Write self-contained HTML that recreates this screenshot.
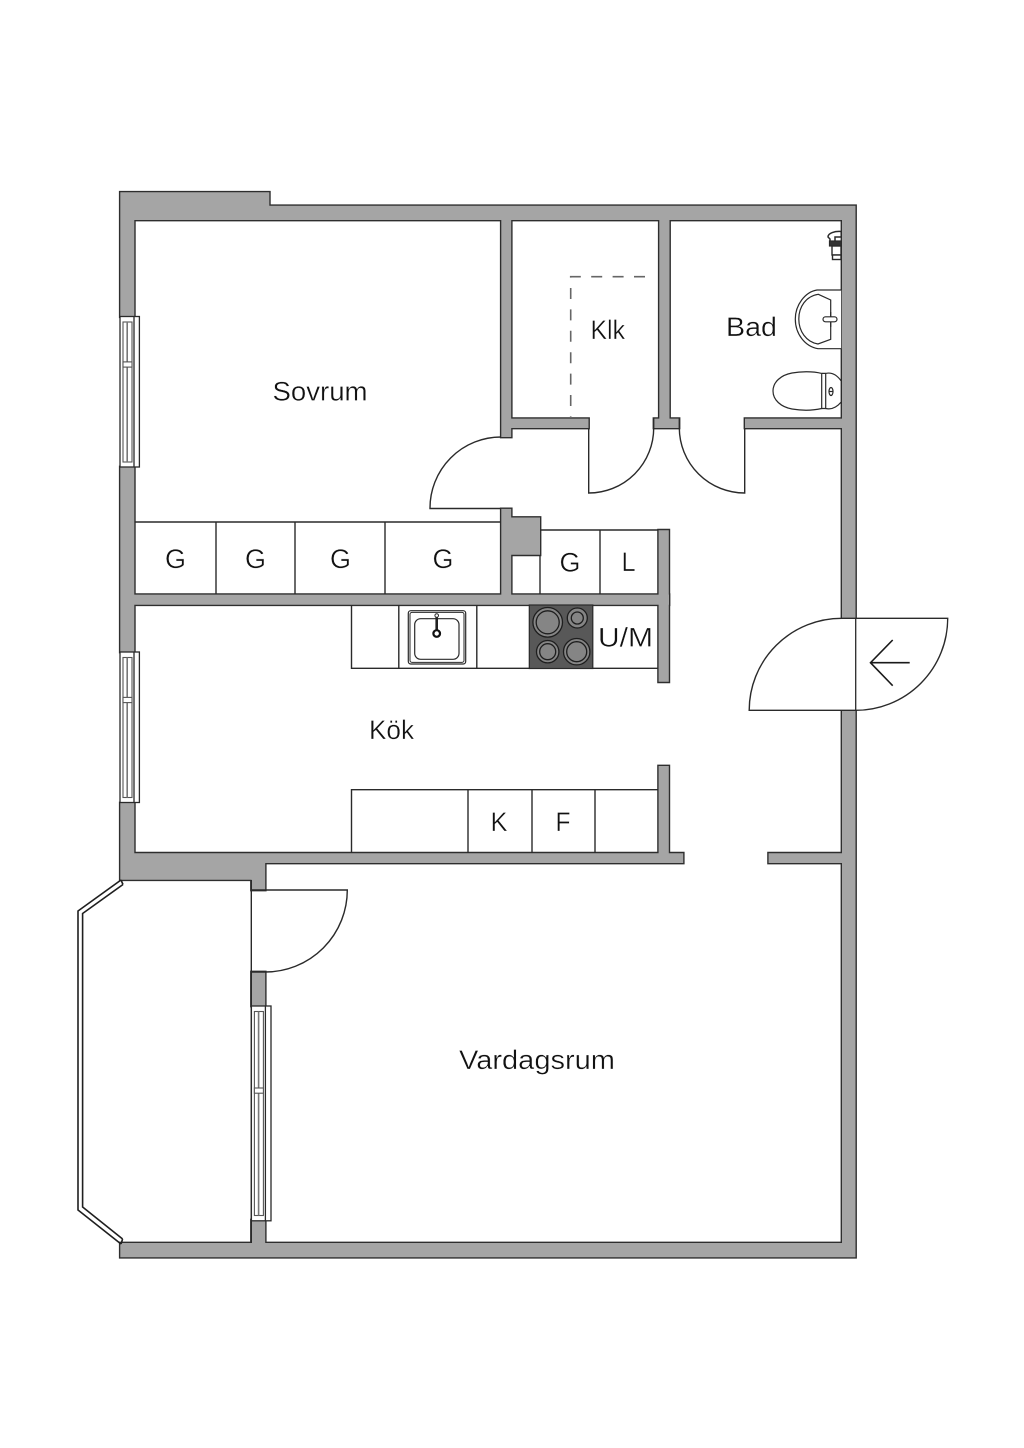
<!DOCTYPE html>
<html>
<head>
<meta charset="utf-8">
<style>
html,body{margin:0;padding:0;background:#fff}
svg{display:block}
text{font-family:"Liberation Sans",sans-serif;fill:#111;font-size:27px;stroke:#fff;stroke-width:.35px;paint-order:fill stroke}
</style>
</head>
<body>
<svg width="1024" height="1448" viewBox="0 0 1024 1448" xmlns="http://www.w3.org/2000/svg">
<defs>
<path id="w" d="M120.3 192.3H269.3V205.8H855.5V220H120.3Z
M120.3 192.3H134.3V316.7H120.3Z
M120.3 467H134.3V652H120.3Z
M120.3 803H134.3V879.7H120.3Z
M120.3 853.2H683.2V863H265.2V890H251.5V879.7H120.3Z
M251.5 972H265.2V1006H251.5Z
M251.5 1220H265.2V1243H251.5Z
M120.3 1243H855.5V1257.2H120.3Z
M842 205.8H855.5V618.3H842Z
M842 710.3H855.5V1257.2H842Z
M501.3 220H511.2V437H501.3Z
M511 418.6H588.5V428H511Z
M654 418.6H679V428H654Z
M659.3 220H669.5V428H659.3Z
M745 418.6H842V428H745Z
M501.3 508.9H511.2V517.5H540V554.8H511.2V600H501.3Z
M134.3 594.6H669V604.7H134.3Z
M658.6 530.2H668.8V681.8H658.6Z
M658.6 766H668.8V863H658.6Z
M768.6 853.2H842V863H768.6Z"/>
</defs>

<!-- walls -->
<use href="#w" fill="#2e2e2e" stroke="#2e2e2e" stroke-width="2.8" stroke-linejoin="miter"/>
<use href="#w" fill="#a5a5a5"/>

<g fill="none" stroke="#2a2a2a" stroke-width="1.4">
<!-- closets -->
<path d="M134.5 522H501M216 522V594M295 522V594M385 522V594"/>
<path d="M540 530H658M540 555V594M600 530V594"/>
<!-- kitchen counters -->
<path d="M658 668.3H351.5V605M398.8 605V668M476.8 605V668"/>
<path d="M658 789.7H351.5V853M468 790V853M532 790V853M595 790V853"/>

<!-- doors -->
<path d="M501 437A71 71 0 0 0 430 508.5H501"/>
<path d="M588.7 428V493A65 65 0 0 0 653.7 428V418.5"/>
<path d="M744.7 428V493A65.4 65.4 0 0 1 679.3 428V418.5"/>
<path d="M251.3 890H347.3A82 82 0 0 1 265.3 972H251.3"/>
<path d="M251.3 880V1243"/>
</g>

<!-- entry door -->
<path d="M841.7 618.3H947.7A92 92 0 0 1 855.7 710.3H749.2A92.5 92 0 0 1 841.7 618.3Z" fill="#fff" stroke="#2a2a2a" stroke-width="1.4"/>
<path d="M855.7 618.3V710.3" fill="none" stroke="#2a2a2a" stroke-width="1.3"/>
<path d="M909.7 662.7H870.5M892.7 640L870.5 662.7L892.7 685.7" fill="none" stroke="#1a1a1a" stroke-width="1.6"/>

<!-- dashed -->
<path d="M645 276.7H570.7V418" fill="none" stroke="#666" stroke-width="1.6" stroke-dasharray="11 10.4"/>

<!-- window 1 -->
<g transform="translate(120,316.5)" stroke="#2a2a2a" stroke-width="1.3">
<rect x="0" y="0" width="19.4" height="150.5" fill="#fff"/>
<path d="M14 0V150.5" fill="none"/>
<g stroke="#555" stroke-width="1.1">
<rect x="3" y="5.5" width="9" height="140" fill="#fff"/>
<path d="M7.2 5.5V145.5" stroke="#777" stroke-width="1.6" fill="none"/>
<rect x="3" y="45.4" width="9" height="5.2" fill="#fff"/>
</g>
</g>
<!-- window 2 -->
<g transform="translate(120,652)" stroke="#2a2a2a" stroke-width="1.3">
<rect x="0" y="0" width="19.4" height="150.5" fill="#fff"/>
<path d="M14 0V150.5" fill="none"/>
<g stroke="#555" stroke-width="1.1">
<rect x="3" y="5.5" width="9" height="140" fill="#fff"/>
<path d="M7.2 5.5V145.5" stroke="#777" stroke-width="1.6" fill="none"/>
<rect x="3" y="45.4" width="9" height="5.2" fill="#fff"/>
</g>
</g>
<!-- window 3 -->
<g transform="translate(251.4,1006)" stroke="#2a2a2a" stroke-width="1.3">
<rect x="0" y="0" width="19.6" height="214.8" fill="#fff"/>
<path d="M14 0V214.8" fill="none"/>
<g stroke="#555" stroke-width="1.1">
<rect x="3" y="5.5" width="9" height="204" fill="#fff"/>
<path d="M7.2 5.5V209.5" stroke="#777" stroke-width="1.6" fill="none"/>
<rect x="3" y="82" width="9" height="5.2" fill="#fff"/>
</g>
</g>

<!-- balcony rail -->
<path d="M121 880L78 911V1210L121 1244" fill="none" stroke="#1f1f1f" stroke-width="1.6"/>
<path d="M123 884.5L82.6 913.5V1207L122.6 1239" fill="none" stroke="#1f1f1f" stroke-width="1.6"/>
<path d="M121 880L123 884.5M121 1244L122.6 1239" fill="none" stroke="#1f1f1f" stroke-width="1.6"/>

<!-- sink -->
<g fill="none" stroke="#2a2a2a">
<rect x="408.3" y="610.7" width="57.4" height="53.3" rx="2.5" stroke-width="1.2"/>
<rect x="410" y="612.4" width="54" height="50" rx="2" stroke-width="1"/>
<rect x="414.7" y="618.7" width="44.3" height="40.6" rx="6" stroke-width="1.2"/>
<path d="M436.7 616V631" stroke="#222" stroke-width="2.6"/>
<circle cx="436.7" cy="633.5" r="3.3" stroke="#111" stroke-width="2.2" fill="#fff"/>
<circle cx="436.7" cy="615.5" r="1.8" stroke-width="1" fill="#fff"/>
</g>

<!-- stove -->
<rect x="529.3" y="605" width="63.5" height="63.5" fill="#585858" stroke="#2a2a2a" stroke-width="1.2"/>
<g stroke="#1e1e1e" stroke-width="1.3" fill="#858585">
<circle cx="547.7" cy="622.3" r="14.8"/>
<circle cx="547.7" cy="622.3" r="11.5"/>
<circle cx="577.3" cy="618" r="10"/>
<circle cx="577.3" cy="618" r="6"/>
<circle cx="547.7" cy="651.7" r="11.2"/>
<circle cx="547.7" cy="651.7" r="8"/>
<circle cx="576.7" cy="651.7" r="13.2"/>
<circle cx="576.7" cy="651.7" r="10"/>
</g>

<!-- bath fixtures -->
<g fill="#fff" stroke="#2a2a2a" stroke-width="1.2">
<path d="M841.2 290H817C805 292 795.3 305 795.3 319C795.3 334 805 346.5 818 348.7H841.2" fill="#fff"/>
<path d="M818.3 294.3L830.7 300V339.3L818 344C806 342 798.8 331 798.8 319C798.8 307 806 296 818.3 294.3Z" fill="#fff"/>
<rect x="823" y="316.8" width="14" height="5" rx="2.5"/>
<path d="M830.7 312V317M830.7 322V327" fill="none"/>
<!-- toilet -->
<path d="M821.7 373.4C812 371 800 371.5 792 373C781 375 773 382 773 391C773 400 781 407 792 409C802 410.7 813 410.5 821.7 408.5Z"/>
<path d="M825.7 373.4C832 372 837 375 841.2 381V402C837 407 832 410 825.7 408.5Z"/>
<path d="M821.7 373.4H825.7M821.7 408.5H825.7" fill="none"/>
<ellipse cx="831" cy="391.5" rx="2" ry="4"/>
<path d="M829 391.5H833" fill="none"/>
<!-- shower tap -->
<path d="M828 237C828 233 835 231 841.2 231.5V237H835V243H830V239Z" stroke-width="1.5"/>
<rect x="829.5" y="241" width="11.7" height="5" fill="#333"/>
<rect x="832" y="246" width="9" height="9" stroke-width="1.4"/>
<rect x="832.5" y="255" width="8.5" height="4.5" stroke-width="1.4"/>
</g>

<!-- labels -->
<text x="272.5" y="400.5" textLength="95" lengthAdjust="spacingAndGlyphs">Sovrum</text>
<text x="590.5" y="338.8" textLength="34.5" lengthAdjust="spacingAndGlyphs">Klk</text>
<text x="726" y="336" textLength="51" lengthAdjust="spacingAndGlyphs">Bad</text>
<text x="165" y="568" textLength="21" lengthAdjust="spacingAndGlyphs">G</text>
<text x="245" y="568" textLength="21" lengthAdjust="spacingAndGlyphs">G</text>
<text x="330" y="568" textLength="21" lengthAdjust="spacingAndGlyphs">G</text>
<text x="432.5" y="568" textLength="21" lengthAdjust="spacingAndGlyphs">G</text>
<text x="559.5" y="571.5" textLength="21" lengthAdjust="spacingAndGlyphs">G</text>
<text x="621.5" y="571" textLength="14" lengthAdjust="spacingAndGlyphs">L</text>
<text x="598" y="646.5" textLength="55" lengthAdjust="spacingAndGlyphs">U/M</text>
<text x="369" y="739" textLength="45" lengthAdjust="spacingAndGlyphs">Kök</text>
<text x="490.5" y="831" textLength="17" lengthAdjust="spacingAndGlyphs">K</text>
<text x="555.5" y="831" textLength="15" lengthAdjust="spacingAndGlyphs">F</text>
<text x="459" y="1069" textLength="156" lengthAdjust="spacingAndGlyphs">Vardagsrum</text>
</svg>
</body>
</html>
